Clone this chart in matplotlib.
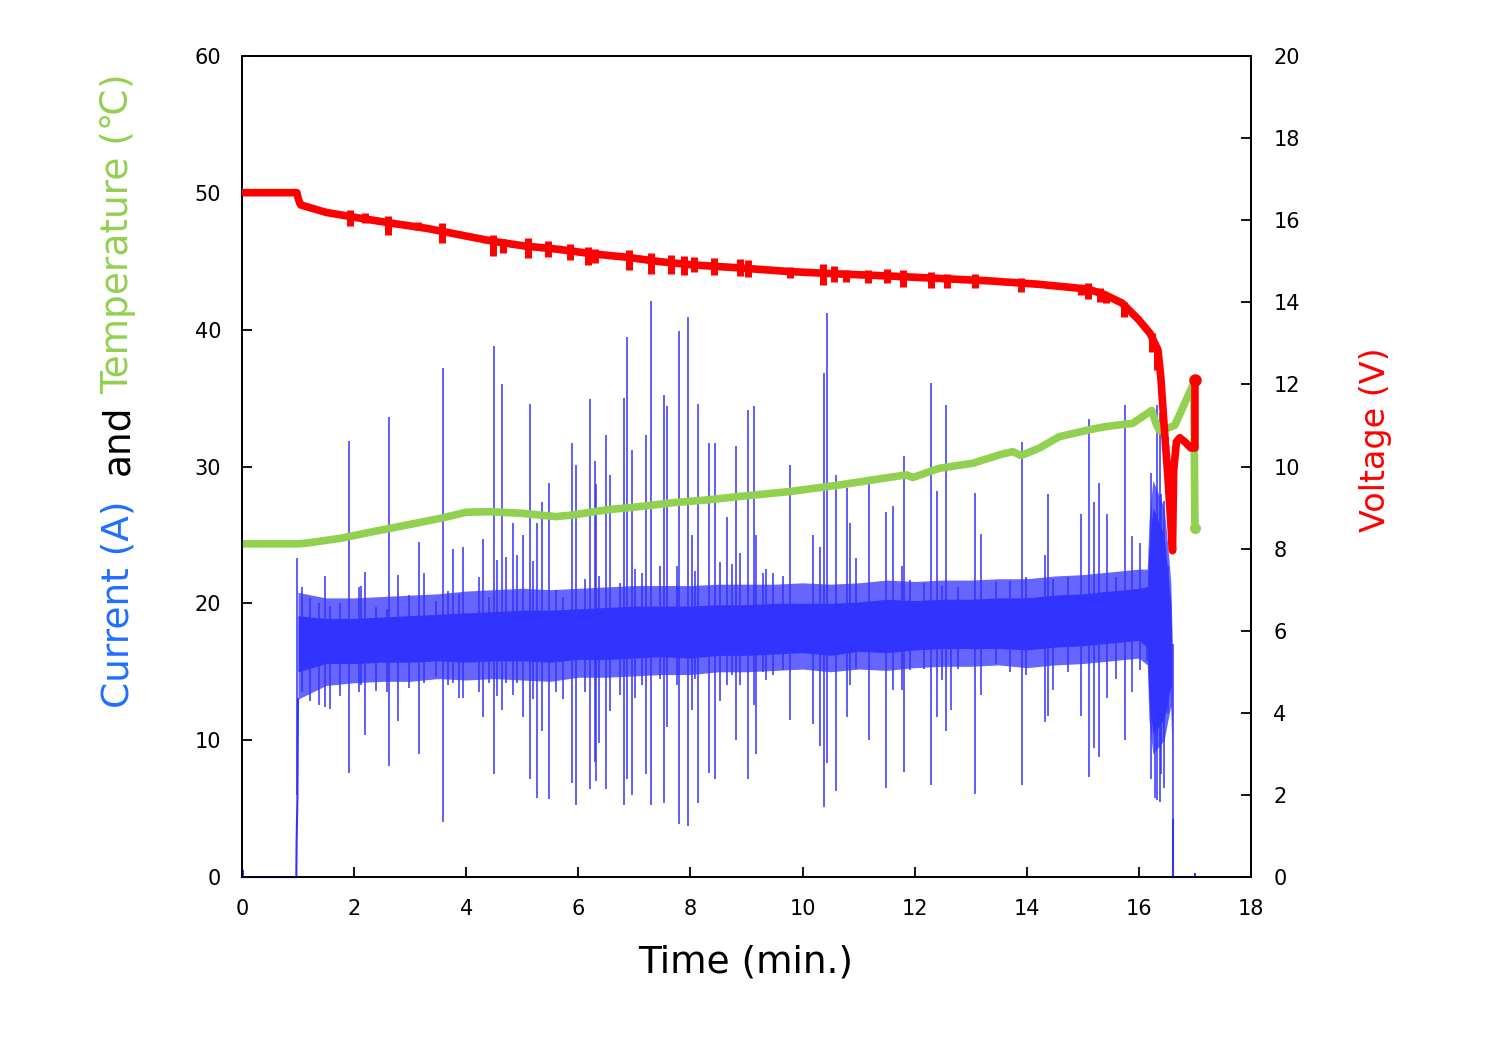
import numpy as np
import matplotlib
matplotlib.use("Agg")
import matplotlib.pyplot as plt

plt.rcParams['font.family'] = ['DejaVu Sans']

# ---------------- data ----------------
# Voltage (V) trace
volt_t = [0.0, 0.98, 1.0, 1.03, 1.05, 1.5, 2.1, 2.7, 3.3, 3.9, 4.5, 5.05, 5.65, 6.25, 6.85, 7.45,
          8.05, 8.85, 9.75, 10.65, 11.55, 12.45, 13.35, 14.2, 14.8, 15.1, 15.4, 15.7, 16.0, 16.2,
          16.34, 16.39, 16.45, 16.52, 16.57, 16.60, 16.62, 16.67, 16.73, 16.82, 16.93, 17.0, 17.0]
volt_v = [16.67, 16.67, 16.55, 16.42, 16.37, 16.19, 16.05, 15.92, 15.80, 15.64, 15.48, 15.37, 15.29,
          15.18, 15.10, 14.99, 14.91, 14.84, 14.75, 14.69, 14.64, 14.58, 14.52, 14.44, 14.36, 14.32,
          14.18, 13.98, 13.57, 13.24, 12.84, 12.20, 11.00, 9.70, 8.60, 7.95, 9.90, 10.60, 10.70,
          10.60, 10.45, 10.45, 12.10]
# short voltage glitches (time, low, high)
glitch_t = [1.93, 2.19, 2.61, 3.14, 3.56, 4.48, 4.66, 5.10, 5.46, 5.85, 6.18, 6.30, 6.90, 7.29,
            7.65, 7.88, 8.06, 8.42, 8.89, 9.03, 9.77, 10.36, 10.57, 10.78, 11.16, 11.50, 11.79,
            12.30, 12.57, 13.07, 13.90, 14.97, 15.09, 15.30, 15.41, 15.74, 16.24, 16.33]
glitch_lo = [15.86, 15.92, 15.64, 15.76, 15.45, 15.13, 15.20, 15.07, 15.11, 15.03, 14.91, 14.95,
             14.79, 14.70, 14.70, 14.66, 14.74, 14.66, 14.64, 14.62, 14.58, 14.42, 14.50, 14.50,
             14.46, 14.46, 14.38, 14.34, 14.36, 14.36, 14.26, 14.17, 14.09, 14.01, 13.98, 13.64,
             12.79, 12.34]
glitch_hi = [16.26, 16.17, 16.09, 15.96, 15.92, 15.64, 15.55, 15.56, 15.50, 15.43, 15.35, 15.31,
             15.27, 15.19, 15.15, 15.13, 15.11, 15.09, 15.06, 15.03, 14.87, 14.93, 14.88, 14.79,
             14.79, 14.80, 14.79, 14.75, 14.70, 14.70, 14.60, 14.42, 14.46, 14.34, 14.22, 14.01,
             13.24, 12.91]

# Temperature (deg C)
temp_t = [0.0, 1.0, 1.15, 1.75, 2.35, 2.95, 3.55, 4.0, 4.42, 5.0, 5.6, 5.9, 6.5, 7.1, 7.7, 8.3,
          8.85, 9.77, 10.66, 11.25, 11.85, 11.97, 12.44, 13.04, 13.51, 13.75, 13.9, 14.22, 14.58,
          15.11, 15.41, 15.89, 16.23, 16.30, 16.37, 16.64, 16.98, 17.0]
temp_c = [24.35, 24.35, 24.4, 24.75, 25.25, 25.73, 26.22, 26.66, 26.70, 26.58, 26.34, 26.46, 26.83,
          27.07, 27.36, 27.56, 27.80, 28.17, 28.65, 29.02, 29.39, 29.20, 29.87, 30.24, 30.85,
          31.09, 30.80, 31.34, 32.18, 32.68, 32.92, 33.16, 34.10, 33.20, 32.60, 33.00, 36.10, 25.50]

# Current (A): baseline / start ramp / end
cur_t = [0.0, 0.01, 0.02, 0.03, 0.97, 0.975, 0.99, 1.0]
cur_a = [0.0, 0.5, 0.0, 0.0, 0.0, 2.5, 6.0, 13.0]
cur_end_t = [16.60, 16.60, 17.0, 17.0]
cur_end_a = [4.2, 0.0, 0.0, 0.2]

# Current: dense core band and outer fringe envelope
band_t = [1.0, 1.5, 2.0, 2.5, 3.0, 3.5, 4.0, 4.5, 5.0, 5.5, 6.0, 6.5, 7.0, 7.5, 8.0, 8.5, 9.0,
          9.5, 10.0, 10.5, 11.0, 11.5, 12.0, 12.5, 13.0, 13.5, 14.0, 14.5, 15.0, 15.5, 16.0,
          16.15, 16.18, 16.25, 16.35, 16.45, 16.52, 16.57, 16.59]
core_lo = [15.0, 15.6, 15.6, 15.7, 15.7, 15.8, 15.7, 15.8, 15.8, 15.7, 15.9, 15.9, 16.0, 16.1,
           16.0, 16.2, 16.2, 16.3, 16.4, 16.2, 16.5, 16.4, 16.6, 16.7, 16.7, 16.7, 16.6, 16.8,
           16.9, 17.1, 17.3, 16.8, 13.0, 10.5, 11.0, 11.5, 13.0, 14.0, 10.0]
core_hi = [19.1, 18.9, 18.9, 19.0, 19.1, 19.2, 19.3, 19.4, 19.5, 19.5, 19.6, 19.7, 19.8, 19.8,
           19.8, 19.9, 19.9, 20.0, 20.0, 20.0, 20.1, 20.3, 20.2, 20.3, 20.3, 20.4, 20.4, 20.6,
           20.7, 20.9, 21.1, 21.2, 24.0, 27.0, 26.0, 25.0, 22.0, 20.0, 17.0]
fringe_lo = [13.0, 14.0, 14.2, 14.3, 14.3, 14.5, 14.4, 14.5, 14.4, 14.3, 14.6, 14.6, 14.7, 14.8,
             14.8, 15.0, 15.0, 15.1, 15.2, 15.0, 15.2, 15.1, 15.3, 15.4, 15.4, 15.5, 15.3, 15.5,
             15.6, 15.8, 16.0, 15.5, 11.5, 9.0, 9.5, 10.0, 11.5, 12.5, 9.0]
fringe_hi = [20.8, 20.4, 20.4, 20.5, 20.6, 20.7, 20.9, 21.0, 21.1, 21.0, 21.1, 21.2, 21.3, 21.3,
             21.3, 21.4, 21.4, 21.4, 21.5, 21.4, 21.5, 21.7, 21.6, 21.7, 21.7, 21.8, 21.8, 22.0,
             22.1, 22.3, 22.5, 22.5, 26.0, 29.0, 28.0, 27.0, 24.0, 21.5, 18.0]

# Current spikes (time, top, bottom)
spike_t = [0.99, 1.065, 1.21, 1.38, 1.48, 1.57, 1.75, 1.91, 2.08, 2.13, 2.20, 2.39, 2.58, 2.63,
           2.79, 2.98, 3.16, 3.25, 3.47, 3.59, 3.68, 3.77, 3.88, 3.94, 4.23, 4.30, 4.41, 4.50,
           4.55, 4.64, 4.71, 4.83, 4.91, 5.01, 5.13, 5.20, 5.26, 5.35, 5.48, 5.61, 5.73, 5.88,
           5.96, 6.12, 6.20, 6.29, 6.31, 6.37, 6.49, 6.56, 6.74, 6.81, 6.86, 6.96, 7.01, 7.13,
           7.21, 7.30, 7.46, 7.53, 7.58, 7.76, 7.80, 7.96, 8.02, 8.08, 8.13, 8.34, 8.44, 8.53,
           8.66, 8.74, 8.81, 8.88, 9.03, 9.14, 9.17, 9.29, 9.34, 9.48, 9.66, 9.78, 10.18, 10.32,
           10.38, 10.44, 10.59, 10.79, 10.85, 10.96, 11.18, 11.49, 11.61, 11.78, 11.81, 11.92,
           12.17, 12.29, 12.40, 12.48, 12.56, 12.65, 12.78, 13.07, 13.19, 13.46, 13.70, 13.91,
           13.98, 14.32, 14.38, 14.46, 14.74, 14.96, 15.11, 15.20, 15.29, 15.44, 15.59, 15.75,
           15.87, 16.02, 16.14, 16.22, 16.28, 16.33, 16.37, 16.40, 16.45, 16.52, 16.60]
spike_top = [23.3, 21.2, 20.4, 20.0, 22.0, 19.8, 20.0, 31.9, 21.2, 21.3, 22.3, 19.7, 19.6, 33.6,
             22.1, 20.6, 24.5, 22.2, 20.2, 37.2, 20.9, 24.0, 20.7, 24.1, 21.9, 24.7, 20.5, 38.8,
             23.2, 36.0, 23.4, 25.9, 23.5, 25.0, 34.6, 23.1, 25.9, 27.4, 28.8, 21.0, 20.5, 31.7,
             30.1, 21.8, 34.9, 30.4, 28.7, 22.0, 32.3, 29.4, 21.5, 35.0, 39.5, 31.2, 22.5, 22.2,
             32.3, 42.1, 22.7, 35.2, 34.4, 22.7, 39.9, 40.9, 25.0, 22.4, 34.6, 31.7, 31.7, 23.0,
             26.3, 22.9, 31.5, 23.7, 34.1, 34.4, 25.0, 22.2, 22.5, 22.2, 22.0, 30.1, 25.0, 24.1,
             36.8, 41.2, 29.4, 28.4, 25.9, 23.3, 28.7, 26.7, 27.1, 22.7, 30.8, 21.7,
             21.5, 36.1, 28.2, 21.3, 34.5, 20.0, 21.2, 28.1, 25.1, 21.6, 21.6, 31.8,
             21.9, 23.5, 28.0, 21.8, 21.9, 26.5, 33.5, 27.4, 28.8, 26.5, 21.9, 34.5,
             24.9, 24.4, 21.2, 29.5, 26.5, 34.5, 33.9, 28.0, 27.5, 22.7, 17.0]
spike_bot = [6.0, 13.5, 12.9, 12.6, 12.4, 12.3, 13.2, 7.6, 13.5, 14.0, 10.4, 13.6, 13.5, 8.1,
             11.4, 13.8, 9.0, 14.2, 14.6, 4.0, 14.0, 14.2, 13.1, 13.1, 13.5, 11.7, 14.2, 7.5,
             13.2, 12.2, 14.2, 13.3, 14.2, 11.7, 7.2, 13.0, 5.8, 10.7, 5.7, 13.5, 13.0, 6.9,
             5.3, 13.5, 6.4, 8.4, 7.0, 9.8, 6.4, 12.1, 13.3, 5.3, 7.2, 6.0, 13.1, 14.0,
             7.5, 5.3, 14.5, 5.4, 11.0, 14.0, 3.9, 3.7, 12.2, 14.5, 5.4, 7.6, 7.2, 12.9,
             14.0, 14.8, 10.0, 14.0, 7.2, 12.6, 9.0, 15.0, 14.4, 14.8, 15.1, 11.5, 11.2, 9.6,
             5.1, 8.3, 6.3, 11.7, 14.0, 15.2, 10.0, 6.5, 13.7, 13.7, 7.7, 15.1,
             15.2, 6.7, 11.7, 14.4, 10.7, 12.2, 15.2, 6.1, 13.3, 15.6, 15.0, 6.7,
             14.8, 11.3, 11.8, 13.7, 15.0, 11.8, 7.3, 9.4, 8.8, 13.1, 14.5, 10.0,
             13.5, 15.1, 15.8, 7.2, 5.8, 5.6, 5.5, 7.5, 6.5, 12.0, 4.2]

x_ticks = list(range(0, 19, 2))
left_ticks = list(range(0, 61, 10))
right_ticks = list(range(0, 21, 2))

# ---------------- styles ----------------
BLUE = '#3333FF'
GREEN = '#92D050'
RED = '#FF0000'
LABEL_BLUE = '#1F6FFF'

fig = plt.figure(figsize=(15, 10.52), dpi=100)
ax = fig.add_axes([0.1613, 0.1663, 0.6727, 0.7805])
ax2 = ax.twinx()

# current
ax.fill_between(band_t, fringe_lo, fringe_hi, color=BLUE, alpha=0.75, lw=0, zorder=1)
ax.fill_between(band_t, core_lo, core_hi, color=BLUE, lw=0, zorder=2)
ax.vlines(spike_t, spike_bot, spike_top, color=BLUE, lw=1.1, zorder=2)
ax.plot(cur_t, cur_a, color=BLUE, lw=1.5, zorder=2.6, clip_on=False)
ax.plot(cur_end_t, cur_end_a, color=BLUE, lw=1.5, zorder=2.6, clip_on=False)

# temperature
ax.plot(temp_t, temp_c, color=GREEN, lw=5.5, solid_capstyle='round', solid_joinstyle='round', zorder=3)
ax.plot([temp_t[-1]], [temp_c[-1]], 'o', color=GREEN, ms=7, zorder=3)

# voltage
ax2.plot(volt_t, volt_v, color=RED, lw=5.5, solid_capstyle='round', solid_joinstyle='round', zorder=4)
ax2.vlines(glitch_t, glitch_lo, glitch_hi, color=RED, lw=5.0, zorder=4)
ax2.plot([volt_t[-1]], [volt_v[-1]], 'o', color=RED, ms=8, zorder=4)

ax.set_xlim(0, 18)
ax.set_ylim(0, 60)
ax2.set_ylim(0, 20)
ax.set_xticks(x_ticks)
ax.set_yticks(left_ticks)
ax2.set_yticks(right_ticks)

for a in (ax, ax2):
    for s in a.spines.values():
        s.set_linewidth(1.3)
ax.tick_params(axis='both', direction='in', length=7, width=1.3, labelsize=15, top=False, right=False)
ax.tick_params(axis='y', pad=15)
ax.tick_params(axis='x', pad=16)
ax2.tick_params(axis='y', direction='in', length=7, width=1.3, labelsize=15, pad=16)

# axis titles
fig.text(746 / 1500, 1 - 962 / 1052, 'Time (min.)', fontsize=27, ha='center', va='center')
ylab_x = 118 / 1500
fig.text(ylab_x, 1 - 604 / 1052, 'Current (A)', fontsize=27, color=LABEL_BLUE, rotation=90,
         ha='center', va='center')
fig.text(ylab_x, 1 - 440 / 1052, 'and', fontsize=27, color='black', rotation=90,
         ha='center', va='center')
fig.text(ylab_x, 1 - 234 / 1052, 'Temperature (℃)', fontsize=27, color=GREEN, rotation=90,
         ha='center', va='center')
fig.text(1376 / 1500, 1 - 440 / 1052, 'Voltage (V)', fontsize=24, color=RED, rotation=90,
         ha='center', va='center')

fig.savefig('out.png', dpi=100)
